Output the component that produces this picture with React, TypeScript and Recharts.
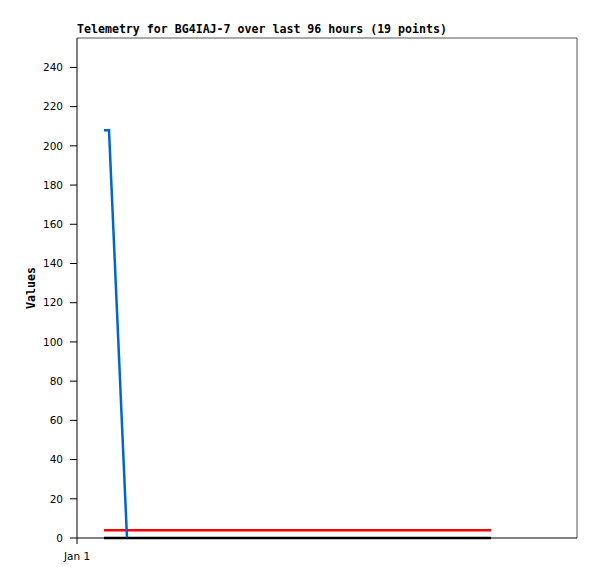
import React from 'react'
import { LineChart, Line, XAxis, YAxis, ReferenceLine } from 'recharts'

// hours since Jan 1 00:00
const blueHours = [5.4, 6.4, 10]
const blueValues = [208, 208, 0]
const redHours = [5.4, 82.8]
const redValues = [4, 4]
const blackHours = [5.4, 82.8]
const blackValues = [0, 0]
const yTicks = [0, 20, 40, 60, 80, 100, 120, 140, 160, 180, 200, 220, 240]
const xTicks = [0]
const xTickLabels = ['Jan 1']

const toRows = (xs: number[], ys: number[]) => xs.map((x, i) => ({ x, v: ys[i] }))

const mono = '"DejaVu Sans Mono", monospace'
const sans = '"DejaVu Sans", sans-serif'

export default function App() {
  const blue = toRows(blueHours, blueValues)
  const red = toRows(redHours, redValues)
  const black = toRows(blackHours, blackValues)

  return (
    <div style={{ position: 'absolute', left: 0, top: 0, width: 597, height: 579, background: '#fff' }}>
      <div
        style={{
          position: 'absolute', left: 77, top: 24, fontFamily: mono, fontWeight: 'bold',
          fontSize: 11.6, lineHeight: 1, whiteSpace: 'nowrap', color: '#000'
        }}
      >
        Telemetry for BG4IAJ-7 over last 96 hours (19 points)
      </div>
      <div
        style={{
          position: 'absolute', left: 32, top: 288, transform: 'translate(-50%, -50%) rotate(-90deg)',
          fontFamily: mono, fontWeight: 'bold', fontSize: 11.6, lineHeight: 1, color: '#000'
        }}
      >
        Values
      </div>
      <LineChart width={597} height={579} margin={{ top: 38, right: 20, bottom: 11, left: 0 }}>
        <XAxis
          dataKey="x"
          type="number"
          domain={[0, 100]}
          ticks={xTicks}
          tickFormatter={(t: number) => xTickLabels[xTicks.indexOf(t)] ?? ''}
          allowDataOverflow
          height={30}
          stroke="#000"
          tickSize={6}
          tickMargin={9}
          tick={{ fontFamily: sans, fontSize: 10.5, fill: '#000' }}
        />
        <YAxis
          type="number"
          domain={[0, 255]}
          ticks={yTicks}
          width={77}
          stroke="#000"
          tickSize={7}
          tickMargin={7}
          tick={{ fontFamily: sans, fontSize: 10.5, fill: '#000' }}
        />
        <ReferenceLine y={255} stroke="#555" strokeWidth={1} />
        <ReferenceLine x={100} stroke="#555" strokeWidth={1} />
        <Line data={black} dataKey="v" type="linear" stroke="#000" strokeWidth={2.5} dot={false} isAnimationActive={false} />
        <Line data={red} dataKey="v" type="linear" stroke="#ff0000" strokeWidth={2.5} dot={false} isAnimationActive={false} />
        <Line data={blue} dataKey="v" type="linear" stroke="#0066cc" strokeWidth={2.5} dot={false} isAnimationActive={false} />
      </LineChart>
    </div>
  )
}
